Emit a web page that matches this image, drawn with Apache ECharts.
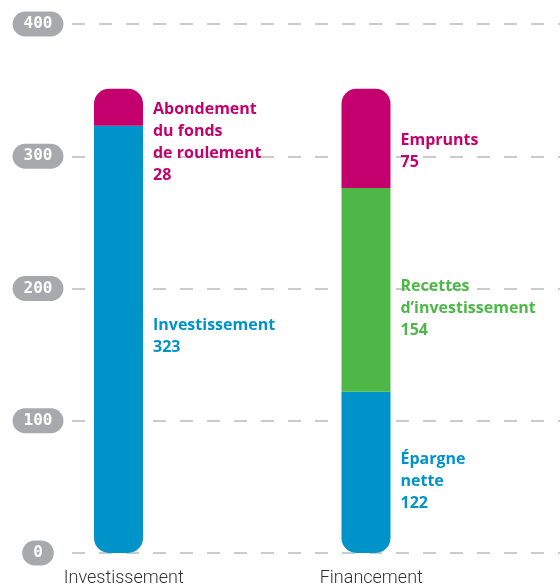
<!DOCTYPE html>
<html>
<head>
<meta charset="utf-8">
<script src="https://cdn.jsdelivr.net/npm/echarts@6/dist/echarts.min.js"></script>
<style>
html,body{margin:0;padding:0;background:#fff;}
#chart{width:560px;height:588px;}
</style>
</head>
<body>
<div id="chart"></div>
<script>
const categories = ['Investissement', 'Financement'];
const yMin = 0, yMax = 400, yStep = 100;

const investissement = [323, null];
const abondement = [28, null];
const epargne = [null, 122];
const recettes = [null, 154];
const emprunts = [null, 75];

const labelInvestissement = 'Investissement';
const labelAbondement = 'Abondement\ndu fonds\nde roulement';
const labelEpargne = 'Épargne\nnette';
const labelRecettes = 'Recettes\nd’investissement';
const labelEmprunts = 'Emprunts';

const BLUE = '#0093C9', MAGENTA = '#C4006F', GREEN = '#4DB848';
const fix = a => a.map(v => v == null ? '-' : v);
const BAR_W = 49, BAR_GAP = '-78.57%';

function seg(name, text, data, color, radius, offY) {
  return {
    name: name, type: 'bar', stack: 'total', xAxisIndex: 1, yAxisIndex: 1,
    barWidth: BAR_W, barGap: BAR_GAP, data: fix(data),
    itemStyle: { color: color, borderRadius: radius },
    label: {
      show: true, position: 'right', distance: 10, offset: [0, offY],
      formatter: p => text + '\n' + p.value,
      color: color, fontFamily: 'Open Sans', fontWeight: 'bold', fontSize: 16,
      lineHeight: 22, align: 'left'
    },
    z: 3
  };
}

const chart = echarts.init(document.getElementById('chart'), null, { renderer: 'canvas' });
chart.setOption({
  animation: false,
  backgroundColor: '#fff',
  grid: [
    { left: 72, right: 0, top: 24, bottom: 35 },
    { left: 0, right: 65, top: 24, bottom: 35 }
  ],
  xAxis: [
    { type: 'category', gridIndex: 0, data: categories, show: false },
    {
      type: 'category', gridIndex: 1, data: categories,
      axisLine: { show: false }, axisTick: { show: false },
      axisLabel: { color: '#333', fontFamily: 'Roboto', fontWeight: 300, fontSize: 18, margin: 16 }
    }
  ],
  yAxis: [
    {
      type: 'value', gridIndex: 0, min: yMin, max: yMax, interval: yStep,
      axisLine: { show: false }, axisTick: { show: false },
      splitLine: { lineStyle: { color: '#BBBBBB', width: 1.5, type: [13, 14] } },
      axisLabel: {
        margin: 34, align: 'center', color: '#fff', fontFamily: 'DejaVu Sans Mono',
        fontWeight: 'bold', fontSize: 16, backgroundColor: '#A7A9AC',
        borderRadius: 13, padding: [5, 11, 5, 11], lineHeight: 15
      }
    },
    { type: 'value', gridIndex: 1, min: yMin, max: yMax, interval: yStep, show: false }
  ],
  series: [
    seg('Investissement', labelInvestissement, investissement, BLUE, [0, 0, 15, 15], -3),
    seg('Abondement', labelAbondement, abondement, MAGENTA, [15, 15, 0, 0], 35),
    seg('Épargne nette', labelEpargne, epargne, BLUE, [0, 0, 15, 15], 9),
    seg('Recettes', labelRecettes, recettes, GREEN, 0, 19),
    seg('Emprunts', labelEmprunts, emprunts, MAGENTA, [15, 15, 0, 0], 13),
    // empty spacer group that shifts the real stack slightly left inside each band
    { name: 'spacer', type: 'bar', stack: 'spacer', xAxisIndex: 1, yAxisIndex: 1,
      barWidth: BAR_W, barGap: BAR_GAP, data: ['-', '-'], silent: true }
  ]
});
</script>
</body>
</html>
